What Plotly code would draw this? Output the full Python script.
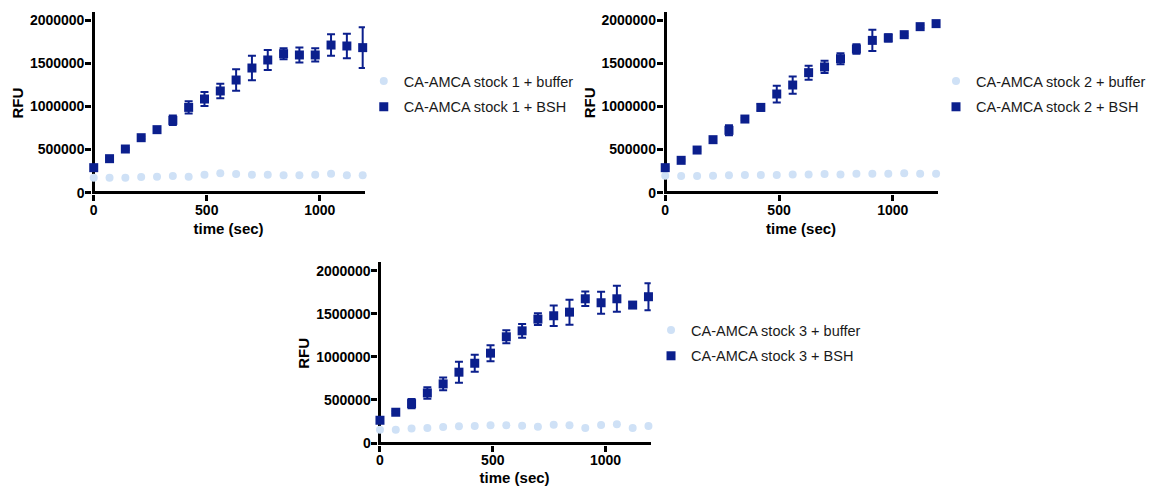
import plotly.graph_objects as go

# ---- data ----
time_sec = [0, 70, 140, 210, 280, 350, 420, 490, 560, 630, 700, 770, 840, 910, 980, 1050, 1120, 1190]

buffer1 = [174000, 174000, 174000, 181000, 185000, 193000, 185000, 208000, 224000, 216000,
           208000, 208000, 201000, 201000, 208000, 220000, 201000, 201000]
bsh1 = [290000, 394000, 506000, 637000, 730000, 838000, 988000, 1085000, 1178000, 1305000,
        1444000, 1537000, 1610000, 1595000, 1595000, 1710000, 1699000, 1680000]
bsh1_err = [15000, 10000, 12000, 15000, 15000, 55000, 70000, 80000, 85000, 125000,
            143000, 116000, 64000, 87000, 77000, 125000, 143000, 235000]

buffer2 = [197000, 193000, 193000, 197000, 201000, 205000, 205000, 205000, 212000, 212000,
           216000, 212000, 220000, 220000, 220000, 224000, 220000, 220000]
bsh2 = [290000, 375000, 494000, 614000, 722000, 853000, 988000, 1143000, 1247000, 1390000,
        1456000, 1552000, 1664000, 1764000, 1792000, 1830000, 1923000, 1958000]
bsh2_err = [10000, 10000, 10000, 10000, 58000, 15000, 40000, 97000, 100000, 81000,
            71000, 64000, 54000, 122000, 42000, 15000, 15000, 15000]

buffer3 = [155000, 155000, 167000, 174000, 186000, 194000, 198000, 205000, 205000, 201000,
           190000, 213000, 205000, 174000, 209000, 217000, 174000, 198000]
bsh3 = [264000, 357000, 457000, 581000, 686000, 822000, 926000, 1043000, 1233000, 1302000,
        1438000, 1477000, 1519000, 1674000, 1628000, 1674000, 1601000, 1698000]
bsh3_err = [30000, 15000, 54000, 66000, 74000, 122000, 99000, 93000, 76000, 79000,
            68000, 120000, 145000, 85000, 128000, 151000, 35000, 157000]

series_names = [
    ("CA-AMCA stock 1 + buffer", "CA-AMCA stock 1 + BSH"),
    ("CA-AMCA stock 2 + buffer", "CA-AMCA stock 2 + BSH"),
    ("CA-AMCA stock 3 + buffer", "CA-AMCA stock 3 + BSH"),
]
y_ticks = [0, 500000, 1000000, 1500000, 2000000]
y_ticktext = ["0", "500000", "1000000", "1500000", "2000000"]
x_ticks = [0, 500, 1000]
x_title = "time (sec)"
y_title = "RFU"

# ---- style ----
W, H = 1151, 486
FONT = "Liberation Sans, Arial, Helvetica, sans-serif"
DARK = "#0b1f8d"
LIGHT = "#cfe1f6"
LW = 3  # axis line width

# pixel geometry of each panel: x of value 0, px per 1000 s, y of value 0, y of 2e6, y top of axis
panels_px = [
    (94.3, 227.4, 192.7, 20.0, 12.0),
    (669.3, 229.0, 192.7, 20.0, 11.5),
    (382.3, 227.0, 443.0, 270.7, 262.3),
]
legend_px = [(366, 65), (942, 65), (655, 314)]

data = [(buffer1, bsh1, bsh1_err), (buffer2, bsh2, bsh2_err), (buffer3, bsh3, bsh3_err)]

fig = go.Figure()
layout = dict(
    width=W, height=H, margin=dict(l=0, r=0, t=0, b=0),
    paper_bgcolor="white", plot_bgcolor="white",
    font=dict(family=FONT, color="#000000"),
    showlegend=True,
)

for i, ((buf, bsh, err), (nb, ns)) in enumerate(zip(data, series_names)):
    k = "" if i == 0 else str(i + 1)
    leg = "legend" if i == 0 else f"legend{i + 1}"
    fig.add_trace(go.Scatter(
        x=time_sec, y=buf, mode="markers", name=nb,
        xaxis="x" + k, yaxis="y" + k, legend=leg, legendgroup=f"b{i}",
        marker=dict(symbol="circle", size=8, color=LIGHT),
        cliponaxis=False,
    ))
    fig.add_trace(go.Scatter(
        x=time_sec, y=bsh, mode="markers", name=ns,
        xaxis="x" + k, yaxis="y" + k, legend=leg, legendgroup=f"s{i}",
        marker=dict(symbol="square", size=9, color=DARK),
        error_y=dict(type="data", array=err, visible=True, color=DARK, thickness=2, width=4),
        cliponaxis=False,
    ))
    x0, sx, y0, y2m, ytop = panels_px[i]
    sx = sx / 1000.0               # px per second
    sy = (y0 - y2m) / 2000000.0    # px per RFU
    half = LW / 2.0
    axis_common = dict(
        showline=False, showgrid=False,
        zeroline=True, zerolinewidth=LW, zerolinecolor="black",
        ticks="outside", ticklen=6, tickwidth=2.5, tickcolor="black",
        tickfont=dict(family=FONT, size=14, color="black", weight="bold"),
        automargin=False,
    )
    x_left = x0 - half
    x_right = x0 + 1200 * sx
    y_bot = y0 + half
    layout["xaxis" + k] = dict(
        axis_common, domain=[x_left / W, x_right / W], range=[-half / sx, 1200],
        tickvals=x_ticks, anchor="y" + k, ticklabelstandoff=-3,
        title=dict(text=x_title, font=dict(family=FONT, size=15, color="black", weight="bold"), standoff=6),
    )
    layout["yaxis" + k] = dict(
        axis_common, domain=[(H - y_bot) / H, (H - ytop) / H],
        range=[-half / sy, (y0 - ytop) / sy],
        tickvals=y_ticks, ticktext=y_ticktext, anchor="x" + k, ticklabelstandoff=-2,
        title=dict(text=y_title, font=dict(family=FONT, size=15, color="black", weight="bold"), standoff=2),
    )
    lx, ly = legend_px[i]
    layout[leg] = dict(
        x=lx / W, y=(H - ly) / H, xanchor="left", yanchor="top",
        bgcolor="rgba(0,0,0,0)", borderwidth=0,
        font=dict(family=FONT, size=14.5, color="#1a1a1a"),
        tracegroupgap=4, traceorder="grouped",
    )

fig.update_layout(**layout)
fig.write_html("out.html")
